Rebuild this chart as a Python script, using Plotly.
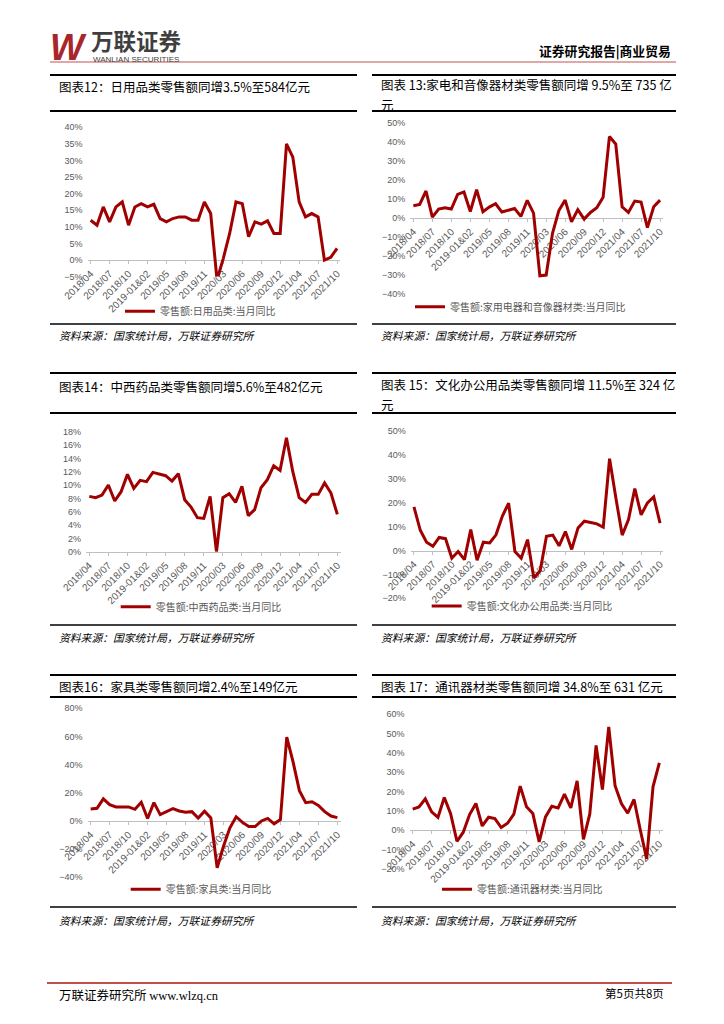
import plotly.graph_objects as go

# ---------------- data ----------------
months = ["2018/04", "2018/05", "2018/06", "2018/07", "2018/08", "2018/09", "2018/10", "2018/11", "2018/12",
          "2019-01&02", "2019/03", "2019/04", "2019/05", "2019/06", "2019/07", "2019/08", "2019/09", "2019/10",
          "2019/11", "2019/12",
          "2020-01&02", "2020/03", "2020/04", "2020/05", "2020/06", "2020/07", "2020/08", "2020/09", "2020/10",
          "2020/11", "2020/12",
          "2021-01&02", "2021/03", "2021/04", "2021/05", "2021/06", "2021/07", "2021/08", "2021/09", "2021/10"]

tick_labels = ["2018/04", "2018/07", "2018/10", "2019-01&02", "2019/05", "2019/08", "2019/11",
               "2020/03", "2020/06", "2020/09", "2020/12", "2021/04", "2021/07", "2021/10"]

daily_goods = [12, 10.5, 16, 11.5, 16, 17.5, 10.5, 16, 17, 16,
               16.8, 12.5, 11.5, 12.5, 13, 13, 12, 12, 17.5, 14,
               -6, 0.5, 8, 17.5, 17, 7, 11.5, 10.8, 11.8, 8,
               8, 35, 31, 17.5, 13, 14, 13, 0, 0.8, 3.5]

appliances = [6.5, 7.2, 14.3, 0.5, 4.8, 5.5, 4.8, 12.5, 13.8, 3.5,
              15, 3.4, 5.8, 7.6, 3.2, 4, 5.1, 0.9, 9.4, 2.6,
              -30.4, -30, -8, 4, 9.5, -2, 4.5, -0.5, 3, 5.5,
              11, 43, 39, 6, 3, 9, 8.5, -5, 6, 9.5]

medicine = [8.3, 8.1, 8.5, 10, 7.6, 9, 11.6, 9.5, 10.7, 10.5,
            11.9, 11.7, 11.4, 10.6, 11.7, 7.8, 6.7, 5.1, 5, 8.3,
            0, 8.1, 8.7, 7.4, 9.8, 5.4, 6.3, 9.6, 10.8, 12.9,
            12.2, 17.1, 12, 8.1, 7.4, 8.6, 8.6, 10.3, 8.8, 5.6]

office = [18.3, 8.5, 3.5, 1.8, 5.5, 5, -3.2, -0.4, -3.8, 8.8,
          -4, 3.5, 3.2, 6.6, 14.4, 19.9, -0.4, -3.2, 4.6, -11.5,
          -8.5, 6, 6.5, 2, 8, 0.5, 9.5, 12.3, 11.8, 11.2,
          9.8, 38.5, 22, 6.5, 13, 26, 15, 20, 22.5, 11.5]

furniture = [8.5, 9, 15.7, 11.6, 10, 10.2, 10, 8.3, 13.3, 1.7,
             13, 4.5, 6.6, 8.8, 7.1, 6.2, 6.6, 2.1, 6.9, 2.1,
             -33.3, -18, -5, 3, -1, -4, -4, 0, 1.8, -2,
             1, 59.5, 42, 21.5, 13, 13.6, 11, 6.6, 3.5, 2.4]

telecom = [10.9, 12, 16.2, 9.5, 6.6, 16.9, 8.6, -5.7, -1, 8.1,
           13.8, 2.2, 6.7, 6, 1.4, 3.6, 8.3, 22.8, 12.1, 8.6,
           -6, 6.9, 12.4, 11.5, 18.6, 11.5, 25.5, -4.7, 8.3, 43.8,
           21, 53.4, 23, 13.8, 8.8, 15.9, 0, -14.8, 22.4, 34.8]

legend_names = ["零售额:日用品类:当月同比", "零售额:家用电器和音像器材类:当月同比",
                "零售额:中西药品类:当月同比", "零售额:文化办公用品类:当月同比",
                "零售额:家具类:当月同比", "零售额:通讯器材类:当月同比"]

titles = ["图表12：日用品类零售额同增3.5%至584亿元",
          "图表 13:家电和音像器材类零售额同增 9.5%至 735 亿",
          "图表14：中西药品类零售额同增5.6%至482亿元",
          "图表 15：文化办公用品类零售额同增 11.5%至 324 亿",
          "图表16：家具类零售额同增2.4%至149亿元",
          "图表 17：通讯器材类零售额同增 34.8%至 631 亿元"]
title_tails = ["", "元", "", "元", "", ""]

source_text = "资料来源：国家统计局，万联证券研究所"

# ---------------- layout helpers ----------------
W, H = 724, 1024
RED = "#A00000"
GRAY = "#595959"
AXIS_GRAY = "#BFBFBF"
CJK = "Noto Sans CJK SC"
LAT = "Liberation Sans"


def px(x):
    return x / W


def py(y):
    return 1 - y / H


series_list = [daily_goods, appliances, medicine, office, furniture, telecom]
panel_geo = [
    dict(yr=(-5, 40), dt=5, xd=(87.5, 340.2), yd=(127.3, 276.6), leg=(126, 311.3)),
    dict(yr=(-40, 50), dt=10, xd=(410.2, 663.2), yd=(123.3, 294.0), leg=(416, 306.7)),
    dict(yr=(0, 18), dt=2, xd=(86.1, 340.5), yd=(431.7, 551.7), leg=(121.7, 606.7)),
    dict(yr=(-20, 50), dt=10, xd=(410.8, 663.2), yd=(431.3, 598.3), leg=(432.7, 606.0)),
    dict(yr=(-40, 80), dt=20, xd=(87.5, 340.5), yd=(708.3, 877.3), leg=(131.7, 889.3)),
    dict(yr=(-20, 60), dt=10, xd=(409.5, 662.5), yd=(714.0, 869.0), leg=(443.0, 889.3)),
]

fig = go.Figure()
layout = dict(
    width=W, height=H, margin=dict(l=0, r=0, t=0, b=0, pad=0, autoexpand=False),
    paper_bgcolor="white", plot_bgcolor="white",
    showlegend=True,
    font=dict(family=CJK, color="#000000"),
)

for i, (ser, g) in enumerate(zip(series_list, panel_geo)):
    n = i + 1
    xk = "xaxis" if n == 1 else f"xaxis{n}"
    yk = "yaxis" if n == 1 else f"yaxis{n}"
    xr = "x" if n == 1 else f"x{n}"
    yr = "y" if n == 1 else f"y{n}"
    lk = "legend" if n == 1 else f"legend{n}"
    ymin, ymax = g["yr"]
    top, bot = g["yd"]
    zero_px = top + (ymax - 0) / (ymax - ymin) * (bot - top)

    fig.add_trace(go.Scatter(
        x=months, y=ser, mode="lines", name=legend_names[i],
        line=dict(color=RED, width=3),
        xaxis=xr, yaxis=yr, legend=lk, hoverinfo="skip",
    ))

    layout[xk] = dict(
        domain=[px(g["xd"][0]), px(g["xd"][1])],
        type="category", range=[-0.5, len(months) - 0.5],
        anchor="free", position=py(zero_px), automargin=False,
        showline=True, linecolor=AXIS_GRAY, linewidth=1,
        ticks="outside", ticklen=3, tickcolor=AXIS_GRAY,
        tickmode="array", tickvals=tick_labels, ticktext=tick_labels,
        tickangle=-45, tickfont=dict(family=LAT, size=10, color=GRAY),
        showgrid=False, zeroline=False, layer="below traces",
    )
    layout[yk] = dict(
        domain=[py(bot), py(top)], anchor=xr, automargin=False,
        range=[ymin, ymax], tickmode="linear", tick0=ymin, dtick=g["dt"],
        ticksuffix="%", tickfont=dict(family=LAT, size=9, color=GRAY),
        showline=False, showgrid=False, zeroline=False, ticks="",
        ticklabelstandoff=4,
    )
    layout[lk] = dict(
        x=px(g["leg"][0] - 6), y=py(g["leg"][1]), xanchor="left", yanchor="middle",
        bgcolor="rgba(0,0,0,0)", borderwidth=0, itemwidth=30,
        font=dict(family=CJK, size=10, color=GRAY),
    )

shapes = []
annotations = []


def hline(x0, x1, y, color="#000000", width=2):
    shapes.append(dict(type="line", xref="paper", yref="paper",
                       x0=px(x0), x1=px(x1), y0=py(y), y1=py(y),
                       line=dict(color=color, width=width)))


def text(x, y, s, size, color="#000000", xanchor="left", family=CJK, **kw):
    annotations.append(dict(x=px(x), y=py(y), xref="paper", yref="paper", text=s,
                            showarrow=False, xanchor=xanchor, yanchor="middle",
                            font=dict(size=size, color=color, family=family), **kw))


# header
hline(50, 676, 62, color="#C0504D", width=1)
text(48, 47, "<b><i>W</i></b>", 36, color="#A8262B", family=LAT)
text(89, 40, "<b>万联证券</b>", 22.5, color="#3F3F3F")
text(91, 59.5, "WANLIAN SECURITIES", 8, color="#3F3F3F", family=LAT)
text(673, 50, "<b>证券研究报告|商业贸易</b>", 12.8, xanchor="right")

# panel frames
rows = [dict(top=75, under=111, bottom=324, title=86, src=335),
        dict(top=373, under=413, bottom=625, title=386, src=637),
        dict(top=675, under=697, bottom=907, title=686, src=920)]
cols = [(50, 357, 57), (372, 676, 379)]
k = 0
for r in rows:
    for (x0, x1, tx) in cols:
        hline(x0, x1, r["top"], width=2.2)
        hline(x0, x1, r["under"], width=2)
        hline(x0, x1, r["bottom"], width=1.6)
        if title_tails[k]:
            text(tx, r["title"] - 1.5, titles[k], 12.5)
            text(tx, r["title"] + 18, title_tails[k], 12.5)
        else:
            text(tx, r["title"], titles[k], 12.5)
        text(tx, r["src"], "<i>" + source_text + "</i>", 10.8)
        k += 1

# footer
hline(47, 672, 983, color="#C0504D", width=2)
text(57, 994, "万联证券研究所 <span style='font-family:Liberation Serif'>www.wlzq.cn</span>", 12.5)
text(666, 993, "第5页共8页", 11.5, xanchor="right")

layout["shapes"] = shapes
layout["annotations"] = annotations
fig.update_layout(**layout)

fig.write_html("out.html",
               config={"displayModeBar": False},
               post_script="document.body.style.margin='0';"
                           "document.documentElement.style.overflow='hidden';")
